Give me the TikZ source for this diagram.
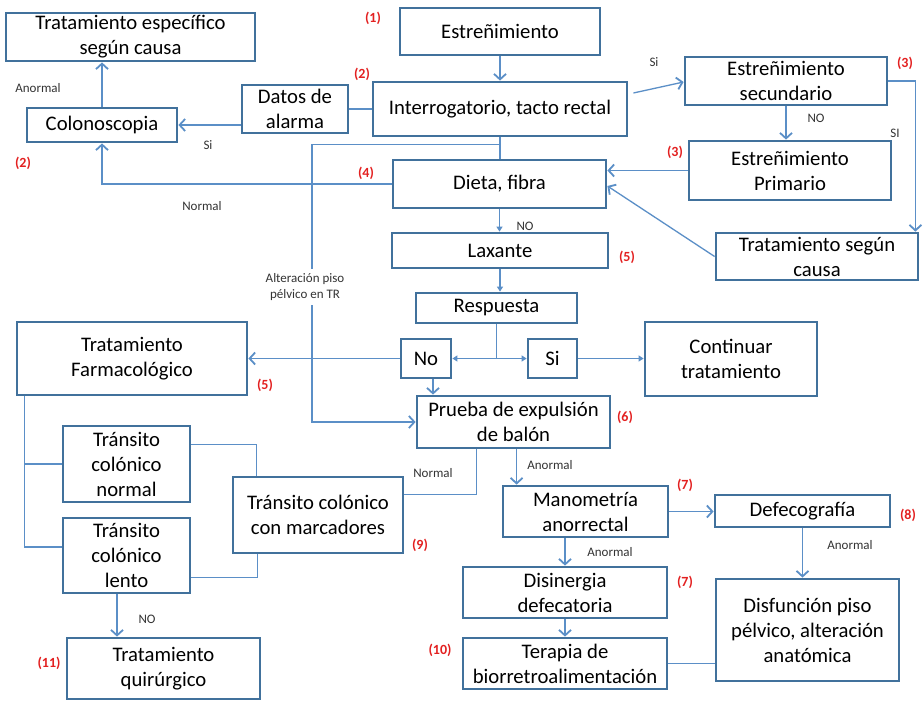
\documentclass[tikz,border=0pt]{standalone}
\usepackage{fontspec}
\setmainfont{Carlito}
\usetikzlibrary{arrows.meta,calc}
\definecolor{bxblue}{HTML}{41719C}
\definecolor{lnblue}{HTML}{5B8FC7}
\definecolor{numred}{HTML}{E32020}
\definecolor{lbltxt}{HTML}{333333}
\newcommand{\mkbox}[6]{%
  \pgfmathsetmacro\bxcx{(#2+#4)/2}\pgfmathsetmacro\bxcy{(#3+#5)/2}%
  \pgfmathsetmacro\bxw{#4-#2}\pgfmathsetmacro\bxh{#5-#3}%
  \node[bx, minimum width=\bxw pt, minimum height=\bxh pt] (#1) at (\bxcx,\bxcy) {#6};}
\begin{document}
\begin{tikzpicture}[x=1pt,y=-1pt,
  bx/.style={draw=bxblue, line width=2.8pt, fill=white, align=center, inner sep=0.5pt,
    font=\fontsize{20.7}{25}\selectfont},
  ln/.style={draw=lnblue, line width=1.3pt},
  arr/.style={ln, -{Straight Barb[length=5.5pt,width=12pt,line width=1.8pt]}},
  sarr/.style={ln, -{Triangle[length=5pt,width=6pt]}},
  lbl/.style={text=lbltxt, align=center, inner sep=1pt, font=\fontsize{13}{16}\selectfont},
  num/.style={text=numred, inner sep=1pt, font=\bfseries\fontsize{14}{16}\selectfont}]
\fill[white] (0,0) rectangle (924,702);
\useasboundingbox (0,0) rectangle (924,702);

\mkbox{tesp}{6}{13}{255}{61}{Tratamiento específico\\según causa}
\mkbox{estr}{400}{8}{600}{55}{Estreñimiento}
\mkbox{datos}{242}{85}{348}{133}{Datos de\\alarma}
\mkbox{inter}{373}{82}{627}{136}{Interrogatorio, tacto rectal}
\mkbox{colon}{27}{108}{177}{142}{Colonoscopia}
\mkbox{sec}{685}{57}{887}{105}{Estreñimiento\\secundario}
\mkbox{prim}{689}{141}{891}{200}{Estreñimiento\\Primario}
\mkbox{dieta}{393}{160}{606}{208}{Dieta, fibra}
\mkbox{tsc}{716}{233}{918}{280}{Tratamiento según\\causa}
\mkbox{lax}{392}{233}{608}{268}{Laxante}
\mkbox{resp}{416}{293}{577}{323}{Respuesta}
\mkbox{no}{401}{339}{451}{378}{No}
\mkbox{si}{528}{339}{577}{378}{Si}
\mkbox{cont}{645}{322}{817}{396}{Continuar\\tratamiento}
\mkbox{prueba}{417}{396}{610}{448}{Prueba de expulsión\\de balón}
\mkbox{farm}{17}{322}{247}{395}{Tratamiento\\Farmacológico}
\mkbox{tnorm}{63}{426}{190}{502}{Tránsito\\colónico\\normal}
\mkbox{tlento}{63}{518}{190}{593}{Tránsito\\colónico\\lento}
\mkbox{tmarc}{233}{477}{403}{553}{Tránsito colónico\\con marcadores}
\mkbox{quir}{67}{638}{260}{699}{Tratamiento\\quirúrgico}
\mkbox{mano}{503}{486}{668}{537}{Manometría\\anorrectal}
\mkbox{defe}{715}{495}{890}{527}{Defecografía}
\mkbox{disin}{463}{567}{667}{618}{Disinergia\\defecatoria}
\mkbox{terap}{463}{638}{667}{689}{Terapia de\\biorretroalimentación}
\mkbox{disf}{716}{579}{899}{681}{Disfunción piso\\pélvico, alteración\\anatómica}

% connectors
\draw[arr] (estr.south) -- (estr.south |- inter.north);
\draw[arr] ($(inter.east)+(5,-16)$) -- ($(sec.west)+(0,1)$);
\draw[arr] (sec.south) -- (sec.south |- prim.north);
\draw[arr] (sec.east) -| ($(tsc.north east)+(-4,0)$);
\draw[arr] (prim.west) -- (prim.west -| dieta.east);
\draw[arr] (tsc.west) -- ($(dieta.east)+(0,2)$);
\draw[ln] (inter.south) -- (inter.south |- dieta.north);
\coordinate (alt0) at ($(inter.south)+(0,7)$);
\draw[arr] (alt0) -- ++(-188,0) |- (prueba.west);
\node[lbl, fill=white, inner sep=4pt] (altlbl) at (305,287) {Alteración piso\\pélvico en TR};
\draw[ln] (inter.west) -- (inter.west -| datos.east);
\draw[arr] (colon.east -| datos.west) -- (colon.east);
\draw[arr] (colon.north) -- (colon.north |- tesp.south);
\draw[arr] (dieta.west) -| (colon.south);
\draw[sarr] (dieta.south) -- (dieta.south |- lax.north);
\draw[sarr] (lax.south) -- (lax.south |- resp.north);
\coordinate (rj) at (resp.south |- no.east);
\draw[ln] (resp.south) -- (rj);
\draw[sarr] (rj) -- (no.east);
\draw[sarr] (rj) -- (si.west);
\draw[sarr] (si.east) -- (si.east -| cont.west);
\draw[arr] (no.west) -- (no.west -| farm.east);
\coordinate (nos) at ($(no.south)+(7,0)$);
\draw[arr] (nos) -- (nos |- prueba.north);
\coordinate (pn) at ($(prueba.south west)+(61,0)$);
\draw[ln] (pn) |- ($(tmarc.north east)+(0,19)$);
\coordinate (pa) at ($(prueba.south west)+(101,0)$);
\draw[arr] (pa) -- (pa |- mano.north);
\draw[arr] (mano.east) -- (mano.east -| defe.west);
\draw[arr] (disin.north |- mano.south) -- (disin.north);
\draw[arr] (disin.south) -- (terap.north);
\draw[arr] (defe.south) -- (defe.south |- disf.north);
\draw[ln] (terap.east) -- (terap.east -| disf.west);
\coordinate (fl) at ($(farm.south west)+(9,0)$);
\draw[ln] (fl) |- (tnorm.west);
\draw[ln] (fl) |- ($(tlento.west)+(0,-8.5)$);
\draw[ln] ($(tnorm.north east)+(0,20)$) -| ($(tmarc.north west)+(25,0)$);
\draw[ln] ($(tlento.south east)+(0,-17)$) -| ($(tmarc.south west)+(26,0)$);
\coordinate (tls) at ($(tlento.south)+(-9.5,0)$);
\draw[arr] (tls) -- (tls |- quir.north);

% small labels
\node[lbl] (l1) at (38,88) {Anormal};
\node[lbl] (l2) at (208,145) {Si};
\node[lbl] (l3) at (202,206) {Normal};
\node[lbl] (l4) at (654,62) {Si};
\node[lbl] (l5) at (816,118) {NO};
\node[lbl] (l6) at (895,133) {SI};
\node[lbl] (l7) at (525,226) {NO};
\node[lbl] (l8) at (433,473) {Normal};
\node[lbl] (l9) at (550,465) {Anormal};
\node[lbl] (l10) at (610,552) {Anormal};
\node[lbl] (l11) at (850,545) {Anormal};
\node[lbl] (l12) at (147,619) {NO};

% red numbers
\node[num] (n1) at (373,18) {(1)};
\node[num] (n2) at (362,74) {(2)};
\node[num] (n2b) at (23,163) {(2)};
\node[num] (n4) at (366,173) {(4)};
\node[num] (n3) at (905,63) {(3)};
\node[num] (n3b) at (675,152) {(3)};
\node[num] (n5) at (627,257) {(5)};
\node[num] (n5b) at (265,385) {(5)};
\node[num] (n6) at (625,417) {(6)};
\node[num] (n7) at (685,485) {(7)};
\node[num] (n7b) at (685,582) {(7)};
\node[num] (n8) at (908,515) {(8)};
\node[num] (n9) at (420,545) {(9)};
\node[num] (n10) at (440,650) {(10)};
\node[num] (n11) at (49,663) {(11)};
\end{tikzpicture}
\end{document}
